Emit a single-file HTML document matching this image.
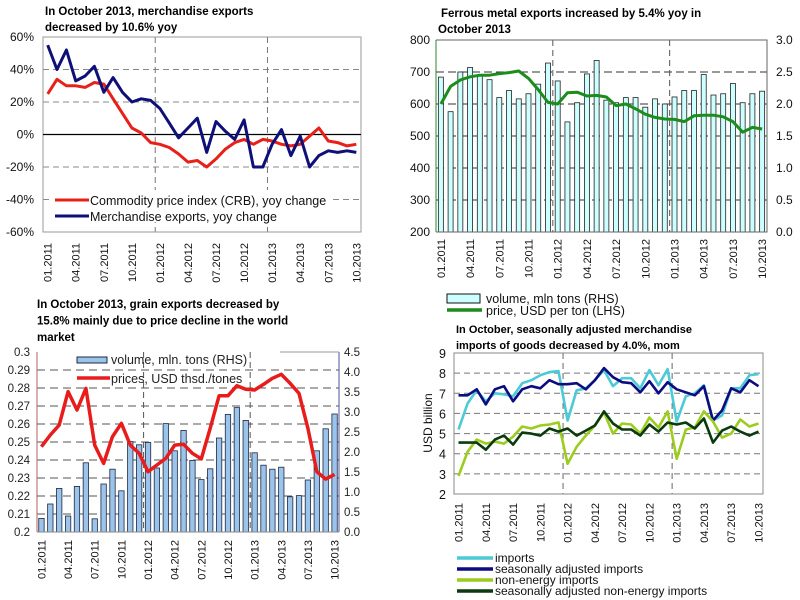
<!DOCTYPE html>
<html><head><meta charset="utf-8"><style>
html,body{margin:0;padding:0;background:#fff;}
svg{display:block;font-family:"Liberation Sans",Arial,sans-serif;}
</style></head><body>
<svg id="chart" width="800" height="600" viewBox="0 0 800 600"></svg>
<script>
const monthTickLabels = ["01.2011","04.2011","07.2011","10.2011","01.2012","04.2012","07.2012","10.2012","01.2013","04.2013","07.2013","10.2013"];
const monthCount = 34;

const p1Crb = [25,34,30,30,29,32,31,22,13,4,1,-5,-6,-8,-12,-17,-16,-20,-15,-9,-5,-3,-6,-3,-4,-6,-7,-6,-1,4,-4,-5,-7,-6];
const p1Exports = [55,40,52,33,36,42,26,35,26,20,22,21,16,7,-2,4,10,-11,8,2,-3,9,-20,-20,-6,3,-13,-1,-20,-13,-10,-11,-10,-11];
const p1YTicks = [60,40,20,0,-20,-40,-60];

const p2Volume = [2.42,1.88,2.5,2.57,2.45,2.38,2.1,2.21,2.08,2.16,2.31,2.64,2.36,1.72,2.02,2.47,2.68,2.06,2.02,2.1,2.1,1.95,2.08,2.0,2.11,2.21,2.21,2.46,2.14,2.16,2.32,2.02,2.16,2.2];
const p2Price = [600,655,675,685,690,690,695,698,703,680,645,605,600,635,637,625,627,622,595,600,585,568,558,553,552,545,563,565,565,560,545,512,527,522];
const p2LeftTicks = [800,700,600,500,400,300,200];
const p2RightTicks = ["3.0","2.5","2.0","1.5","1.0","0.5","0.0"];

const p3Volume = [0.34,0.7,1.09,0.4,1.14,1.73,0.33,1.2,1.57,1.03,2.26,2.18,2.24,1.6,2.71,2.03,2.54,1.79,1.31,1.58,2.35,2.94,3.11,2.79,1.98,1.67,1.57,1.62,0.88,0.91,1.3,2.03,2.58,2.95];
const p3Price = [0.2474,0.2539,0.2594,0.278,0.2678,0.2798,0.2483,0.2381,0.253,0.2604,0.2483,0.2437,0.2335,0.2372,0.2409,0.2483,0.2487,0.2437,0.2406,0.2576,0.2757,0.2757,0.2813,0.2793,0.2789,0.282,0.2854,0.2876,0.2826,0.277,0.2576,0.2335,0.2294,0.232];
const p3LeftTicks = ["0.3","0.29","0.28","0.27","0.26","0.25","0.24","0.23","0.22","0.21","0.2"];
const p3RightTicks = ["4.5","4.0","3.5","3.0","2.5","2.0","1.5","1.0","0.5","0.0"];

const p4Imports = [5.2,6.5,7.15,6.6,7.0,6.95,6.85,7.5,7.65,7.9,8.05,8.1,5.65,7.15,7.25,7.65,8.15,7.35,7.75,7.75,7.25,8.15,7.4,8.2,5.6,6.85,7.0,7.4,5.65,5.9,7.25,7.25,7.9,7.95];
const p4SaImports = [6.9,6.9,7.2,6.45,7.2,7.35,6.6,7.2,7.35,7.25,7.65,7.45,7.45,7.5,7.2,7.65,8.25,7.8,7.55,7.5,7.05,7.6,7.0,7.55,7.2,7.05,6.9,7.35,5.65,6.15,7.25,7.05,7.65,7.35];
const p4NonEnergy = [2.9,4.1,4.7,4.5,4.6,4.5,4.85,5.35,5.25,5.4,5.45,5.55,3.5,4.35,4.9,5.4,6.05,5.0,5.5,5.45,5.0,5.8,5.3,6.1,3.75,5.2,5.3,6.1,5.6,4.8,5.0,5.7,5.35,5.5];
const p4SaNonEnergy = [4.55,4.55,4.55,4.2,4.7,4.9,4.45,5.05,5.0,4.9,5.25,5.1,5.25,4.9,5.15,5.4,6.1,5.5,5.2,5.2,4.9,5.45,5.1,5.55,5.45,5.55,5.25,5.75,4.55,5.15,5.35,5.1,4.9,5.1];
const p4YTicks = [9,8,7,6,5,4,3,2];

const NS = "http://www.w3.org/2000/svg";
const svg = document.getElementById("chart");
function mk(tag, attrs, parent) {
  const e = document.createElementNS(NS, tag);
  for (const k in attrs) e.setAttribute(k, attrs[k]);
  (parent || svg).appendChild(e);
  return e;
}
function txt(str, attrs, parent) {
  const t = mk("text", attrs, parent);
  t.textContent = str;
  return t;
}
function xc(p, i) { return p.x0 + (i + 0.5) * (p.x1 - p.x0) / monthCount; }
function xb(p, i) { return p.x0 + i * (p.x1 - p.x0) / monthCount; }
function yL(p, v) { return p.yBot - (v - p.lmin) / (p.lmax - p.lmin) * (p.yBot - p.yTop); }
function yR(p, v) { return p.yBot - (v - p.rmin) / (p.rmax - p.rmin) * (p.yBot - p.yTop); }
function linePath(p, arr, yf) {
  return arr.map((v, i) => (i ? "L" : "M") + xc(p, i).toFixed(1) + "," + yf(p, v).toFixed(1)).join(" ");
}
function xLabels(p, g, y0) {
  monthTickLabels.forEach((lab, k) => {
    const x = xc(p, k * 3) + 4;
    const t = txt(lab, {x: x, y: y0, "font-size": 11, "text-anchor": "end", fill: "#111", transform: "rotate(-90 " + x + " " + y0 + ")"}, g);
    
    
  });
}
function vDashes(p, g, col) {
  [12, 24].forEach(i => {
    const l = mk("line", {x1: xb(p, i), x2: xb(p, i), y1: p.yTop, y2: p.yBot, stroke: col, "stroke-width": 1, "stroke-dasharray": "6 4"}, g);
    
    
  });
}

/* ---------- Panel 1 ---------- */
const P1 = {x0: 43, x1: 361, yTop: 37, yBot: 232, lmin: -60, lmax: 60};
const g1 = mk("g", {});


["In October 2013, merchandise exports", "decreased by 10.6% yoy"].forEach((s, k) => {
  const t = txt(s, {x: 45, y: 15 + k * 16, "font-size": 11.5, "font-weight": "bold"}, g1);
  
  
});
p1YTicks.forEach(v => {
  const y = yL(P1, v);
  if (v !== 60 && v !== -60 && v !== 0) {
    const gl = mk("line", {x1: P1.x0, x2: P1.x1, y1: y, y2: y, stroke: "#888", "stroke-dasharray": "6 4"}, g1);
    
    
  }
  const t = txt(v + "%", {x: 34, y: y + 4, "font-size": 12, "text-anchor": "end", fill: "#111"}, g1);
  
  
});
vDashes(P1, g1, "#777");
const b1 = mk("rect", {x: P1.x0, y: P1.yTop, width: P1.x1 - P1.x0, height: P1.yBot - P1.yTop, fill: "none", stroke: "#999"}, g1);


const z1 = mk("line", {x1: P1.x0, x2: P1.x1, y1: yL(P1, 0), y2: yL(P1, 0), stroke: "#000", "stroke-width": 1.2}, g1);


const s1a = mk("path", {d: linePath(P1, p1Crb, yL), fill: "none", stroke: "#e8201a", "stroke-width": 3, "stroke-linejoin": "round"}, g1);


const s1b = mk("path", {d: linePath(P1, p1Exports, yL), fill: "none", stroke: "#0f0f78", "stroke-width": 3, "stroke-linejoin": "round"}, g1);


const lg1bg = mk("rect", {x: 52, y: 190, width: 280, height: 32, fill: "#fff"}, g1);


[["#e8201a", "Commodity price index (CRB), yoy change", 200], ["#0f0f78", "Merchandise exports, yoy change", 216]].forEach(e => {
  const l = mk("line", {x1: 55, x2: 89, y1: e[2], y2: e[2], stroke: e[0], "stroke-width": 3}, g1);
  
  
  const t = txt(e[1], {x: 90, y: e[2] + 5, "font-size": 12.5, fill: "#111"}, g1);
  
  
});
xLabels(P1, g1, 243);

/* ---------- Panel 2 ---------- */
const P2 = {x0: 436, x1: 767, yTop: 40, yBot: 232, lmin: 200, lmax: 800, rmin: 0, rmax: 3};
const g2 = mk("g", {});


const t2a = txt("Ferrous metal exports increased by 5.4% yoy in", {x: 441, y: 17, "font-size": 11.5, "font-weight": "bold"}, g2);


const t2b = txt("October 2013", {x: 438, y: 33, "font-size": 11.5, "font-weight": "bold"}, g2);


p2LeftTicks.forEach((v, k) => {
  const y = yL(P2, v);
  if (v !== 800 && v !== 200) {
    const gl = mk("line", {x1: P2.x0, x2: P2.x1, y1: y, y2: y, stroke: "#333", "stroke-dasharray": "8 4"}, g2);
    
    
  }
  const t = txt(String(v), {x: 430, y: y + 4, "font-size": 12, "text-anchor": "end", fill: "#111"}, g2);
  
  
  const r = txt(p2RightTicks[k], {x: 776, y: y + 4, "font-size": 12, fill: "#111"}, g2);
  
  
});
vDashes(P2, g2, "#555");
const bw2 = 5;
p2Volume.forEach((v, i) => {
  const y = yR(P2, v);
  const b = mk("rect", {x: xc(P2, i) - bw2 / 2, y: y, width: bw2, height: P2.yBot - y, fill: "#ccffff", stroke: "#222", "stroke-width": 0.8}, g2);
  
  
});
const ax2 = mk("path", {d: `M${P2.x0},${P2.yTop} H${P2.x1} V${P2.yBot} H${P2.x0}`, fill: "none", stroke: "#666"}, g2);


const ax2l = mk("line", {x1: P2.x0, x2: P2.x0, y1: P2.yTop, y2: P2.yBot, stroke: "#2a8a2a", "stroke-width": 1}, g2);


const s2 = mk("path", {d: linePath(P2, p2Price, yL), fill: "none", stroke: "#1c8c1c", "stroke-width": 3, "stroke-linejoin": "round"}, g2);


xLabels(P2, g2, 239);
const lg2r = mk("rect", {x: 447, y: 294, width: 33, height: 9, fill: "#ccffff", stroke: "#111"}, g2);


const lg2t = txt("volume, mln tons (RHS)", {x: 486, y: 303, "font-size": 12.5, fill: "#111"}, g2);


const lg2l = mk("line", {x1: 447, x2: 482, y1: 310, y2: 310, stroke: "#1c8c1c", "stroke-width": 3.5}, g2);


const lg2t2 = txt("price, USD per ton  (LHS)", {x: 486, y: 315, "font-size": 12.5, fill: "#111"}, g2);



/* ---------- Panel 3 ---------- */
const P3 = {x0: 37, x1: 339, yTop: 352, yBot: 532, lmin: 0.2, lmax: 0.3, rmin: 0, rmax: 4.5};
const g3 = mk("g", {});


["In October 2013, grain exports decreased  by", "15.8% mainly due to price decline in the world", "market"].forEach((s, k) => {
  const t = txt(s, {x: 37, y: 308 + k * 16.5, "font-size": 11.5, "font-weight": "bold"}, g3);
  
  
});
p3LeftTicks.forEach((s, k) => {
  const y = P3.yTop + k * (P3.yBot - P3.yTop) / 10;
  const t = txt(s, {x: 30, y: y + 4, "font-size": 11.5, "text-anchor": "end", fill: "#222"}, g3);
  
  
  if (k > 0 && k < 10) {
    const gl = mk("line", {x1: P3.x0, x2: P3.x1, y1: y, y2: y, stroke: "#555", "stroke-dasharray": "8 5"}, g3);
    
    
  }
});
p3RightTicks.forEach((s, k) => {
  const y = yR(P3, parseFloat(s));
  const t = txt(s, {x: 344, y: y + 4, "font-size": 11.5, fill: "#222"}, g3);
  
  
});
vDashes(P3, g3, "#555");
p3Volume.forEach((v, i) => {
  const y = yR(P3, v);
  const b = mk("rect", {x: xc(P3, i) - 2.7, y: y, width: 5.4, height: P3.yBot - y, fill: "#9cc3ea", stroke: "#1c2a44", "stroke-width": 0.8}, g3);
  
  
});
const ax3l = mk("line", {x1: P3.x0, x2: P3.x0, y1: P3.yTop, y2: P3.yBot, stroke: "#b06060"}, g3);


const ax3r = mk("line", {x1: P3.x1, x2: P3.x1, y1: P3.yTop, y2: P3.yBot, stroke: "#5050a0"}, g3);


const ax3b = mk("line", {x1: P3.x0, x2: P3.x1, y1: P3.yBot, y2: P3.yBot, stroke: "#888"}, g3);


const ax3t = mk("line", {x1: 280, x2: P3.x1, y1: P3.yTop, y2: P3.yTop, stroke: "#999"}, g3);


const s3 = mk("path", {d: linePath(P3, p3Price, yL), fill: "none", stroke: "#e81c1c", "stroke-width": 3.5, "stroke-linejoin": "round"}, g3);


const lg3r = mk("rect", {x: 77, y: 357, width: 30, height: 6, fill: "#9cc3ea", stroke: "#1c2a44"}, g3);


const lg3t = txt("volume, mln. tons (RHS)", {x: 111, y: 364, "font-size": 12.5, fill: "#222"}, g3);


const lg3l = mk("line", {x1: 77, x2: 110, y1: 378, y2: 378, stroke: "#e81c1c", "stroke-width": 3.5}, g3);


const lg3t2 = txt("prices, USD thsd./tones", {x: 111, y: 383, "font-size": 12.5, fill: "#222"}, g3);


xLabels(P3, g3, 540);

/* ---------- Panel 4 ---------- */
const P4 = {x0: 454, x1: 763, yTop: 353, yBot: 494, lmin: 2, lmax: 9};
const g4 = mk("g", {});


["In October, seasonally adjusted merchandise", "imports of goods decreased by 4.0%, mom"].forEach((s, k) => {
  const t = txt(s, {x: 456, y: 333 + k * 16, "font-size": 11, "font-weight": "bold"}, g4);
  
  
});
p4YTicks.forEach(v => {
  const y = yL(P4, v);
  if (v !== 9 && v !== 2) {
    const gl = mk("line", {x1: P4.x0, x2: P4.x1, y1: y, y2: y, stroke: "#777", "stroke-dasharray": "6 4"}, g4);
    
    
  }
  const t = txt(String(v), {x: 446, y: y + 5, "font-size": 12.5, "text-anchor": "end", fill: "#111"}, g4);
  
  
});
const yt4 = txt("USD billion", {x: 432, y: 423, "font-size": 12, "text-anchor": "middle", fill: "#111", transform: "rotate(-90 432 423)"}, g4);


vDashes(P4, g4, "#666");
const b4 = mk("rect", {x: P4.x0, y: P4.yTop, width: P4.x1 - P4.x0, height: P4.yBot - P4.yTop, fill: "none", stroke: "#888"}, g4);


const p4Series = [[p4Imports, "#4ccad6", "imports-line"], [p4SaImports, "#0c0c80", "sa-imports-line"], [p4NonEnergy, "#9ccc1e", "non-energy-line"], [p4SaNonEnergy, "#0a3a0e", "sa-non-energy-line"]];
const s4a = mk("path", {d: linePath(P4, p4Imports, yL), fill: "none", stroke: "#4ccad6", "stroke-width": 2.6, "stroke-linejoin": "round"}, g4);


const s4b = mk("path", {d: linePath(P4, p4SaImports, yL), fill: "none", stroke: "#0c0c80", "stroke-width": 2.6, "stroke-linejoin": "round"}, g4);


const s4c = mk("path", {d: linePath(P4, p4NonEnergy, yL), fill: "none", stroke: "#9ccc1e", "stroke-width": 2.6, "stroke-linejoin": "round"}, g4);


const s4d = mk("path", {d: linePath(P4, p4SaNonEnergy, yL), fill: "none", stroke: "#0a3a0e", "stroke-width": 2.6, "stroke-linejoin": "round"}, g4);


xLabels(P4, g4, 503);
const lg4 = [["#4ccad6", "imports"], ["#0c0c80", "seasonally adjusted imports"], ["#9ccc1e", "non-energy imports"], ["#0a3a0e", "seasonally adjusted non-energy imports"]];
lg4.forEach((e, k) => {
  const y = 558 + k * 11;
  const l = mk("line", {x1: 457, x2: 493, y1: y, y2: y, stroke: e[0], "stroke-width": 3.5}, g4);
  
  
  const t = txt(e[1], {x: 495, y: y + 4, "font-size": 12, fill: "#111"}, g4);
  
  
});
</script>
</body></html>
